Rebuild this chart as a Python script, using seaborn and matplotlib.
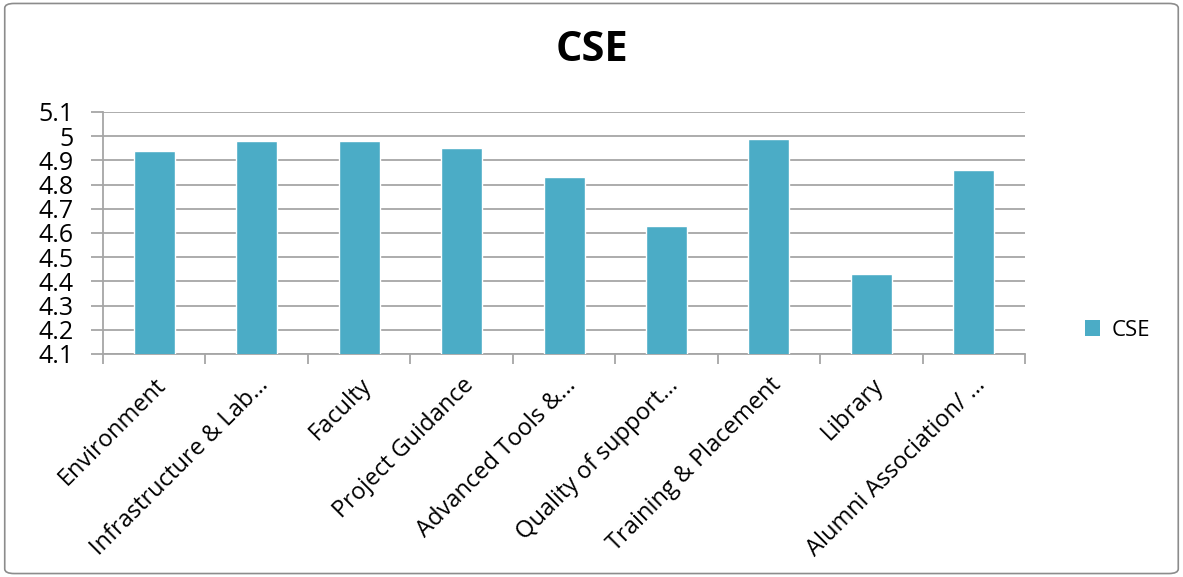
import numpy as np
import pandas as pd
import matplotlib.pyplot as plt
import seaborn as sns
from matplotlib.patches import FancyBboxPatch, Patch
from matplotlib.ticker import FixedLocator

# chart data
categories = ['Environment', 'Infrastructure & Lab…', 'Faculty', 'Project Guidance',
              'Advanced Tools &…', 'Quality of support…', 'Training & Placement',
              'Library', 'Alumni Association/ …']
scores = [4.94, 4.98, 4.98, 4.95, 4.83, 4.63, 4.99, 4.43, 4.86]
yticks = [4.1, 4.2, 4.3, 4.4, 4.5, 4.6, 4.7, 4.8, 4.9, 5, 5.1]
ytick_labels = ['4.1', '4.2', '4.3', '4.4', '4.5', '4.6', '4.7', '4.8', '4.9', '5', '5.1']

df = pd.DataFrame({'category': categories, 'score': scores})

sns.set_style("white")
plt.rcParams['font.family'] = ['Open Sans', 'DejaVu Sans']
plt.rcParams['text.color'] = 'black'
plt.rcParams['xtick.color'] = 'black'
plt.rcParams['ytick.color'] = 'black'

bar_color = '#4BACC6'
grid_color = '#A6A6A6'

fig = plt.figure(figsize=(11.83, 5.77), dpi=100)
ax = fig.add_axes([0.0871, 0.3865, 0.7794, 0.4195])

sns.barplot(data=df, x='category', y='score', color=bar_color, width=0.4,
            saturation=1, ax=ax, zorder=3)

ax.set_ylim(4.1, 5.1)
ax.set_xlim(-0.5, len(categories) - 0.5)
ax.set_yticks(yticks)
ax.set_yticklabels(ytick_labels, fontsize=18)
ax.yaxis.grid(True, color=grid_color, linewidth=1.3, zorder=0)
ax.set_axisbelow(True)

# category labels at centres, tick marks at category boundaries
ax.set_xticks(range(len(categories)))
ax.set_xticklabels(categories, rotation=45, ha='right', rotation_mode='anchor', fontsize=17)
ax.tick_params(axis='x', which='major', length=0, pad=14)
ax.xaxis.set_minor_locator(FixedLocator(np.arange(-0.5, len(categories), 1)))
ax.tick_params(axis='x', which='minor', length=7, width=1.3, color=grid_color, bottom=True)
ax.tick_params(axis='y', length=9, width=1.3, color=grid_color, labelcolor='black',
               left=True, pad=12)

for side in ['top', 'right']:
    ax.spines[side].set_visible(False)
for side in ['left', 'bottom']:
    ax.spines[side].set_color(grid_color)
    ax.spines[side].set_linewidth(1.3)

ax.set_xlabel('')
ax.set_ylabel('')

fig.text(0.5, 0.913, 'CSE', ha='center', va='center', fontsize=30, fontweight='bold',
         color='black')

handle = Patch(facecolor=bar_color, edgecolor='none', label='CSE')
fig.legend(handles=[handle], loc='center left', bbox_to_anchor=(0.9, 0.428),
           frameon=False, fontsize=16, handlelength=0.7, handleheight=0.7, handletextpad=0.5)

border = FancyBboxPatch((0.004, 0.006), 0.992, 0.988, boxstyle='round,pad=0,rounding_size=0.008',
                        transform=fig.transFigure, facecolor='none', edgecolor='#8C8C8C',
                        linewidth=1.2)
fig.patches.append(border)

fig.savefig('out.png', dpi=100)
